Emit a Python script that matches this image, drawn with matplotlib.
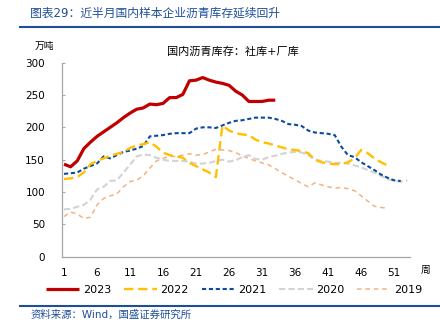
import matplotlib
matplotlib.use('Agg')
import matplotlib.pyplot as plt
from matplotlib.lines import Line2D

plt.rcParams['font.family'] = ['DejaVu Sans', 'Noto Sans CJK SC']

# weekly asphalt inventory (万吨)
v2023 = [143, 139, 148, 167, 177, 186, 193, 200, 207, 215, 222, 228, 230, 236, 235, 237,
         246, 246, 251, 272, 273, 277, 273, 270, 268, 265, 256, 250, 240, 240, 240, 242, 242]
v2022 = [120, 121, 123, 130, 143, 148, 152, 156, 159, 162, 168, 172, 174, 177, 170, 161,
         157, 155, 153, 145, 140, 135, 130, 123, 203, 195, 191, 189, 188, 181, 177, 175,
         172, 169, 166, 165, 163, 160, 150, 146, 144, 143, 143, 146, 152, 165, 160, 152,
         146, 141]
v2021 = [128, 129, 130, 136, 140, 144, 155, 152, 157, 162, 164, 167, 171, 186, 187, 188,
         190, 191, 191, 191, 198, 200, 200, 199, 203, 207, 210, 211, 213, 215, 215, 215,
         213, 210, 205, 204, 202, 195, 192, 191, 190, 188, 170, 157, 154, 146, 140, 134,
         127, 122, 118, 117]
v2020 = [73, 74, 77, 80, 88, 104, 108, 117, 118, 130, 142, 155, 158, 157, 153, 150,
         148, 148, 148, 147, 144, 144, 145, 148, 150, 147, 149, 154, 157, 151, 150, 154,
         156, 159, 161, 162, 161, 157, 150, 148, 147, 145, 145, 144, 141, 138, 134, 130,
         125, 120, 117, 116, 118]
v2019 = [62, 69, 66, 59, 61, 80, 90, 94, 97, 108, 116, 118, 125, 137, 148, 152,
         155, 155, 157, 159, 157, 158, 162, 166, 165, 164, 161, 156, 152, 148, 145, 142,
         136, 130, 124, 119, 113, 108, 114, 111, 108, 106, 107, 105, 102, 94, 86, 78,
         76, 75]
xticks = [1, 6, 11, 16, 21, 26, 31, 36, 41, 46, 51]

blue = '#1F4E99'

fig = plt.figure(figsize=(4.4, 3.3), dpi=100)
ax = fig.add_axes([0.1402, 0.2224, 0.7916, 0.5876])

series = [
    ('2019', v2019, '#F4B183', 1.1, (3, 2.5)),
    ('2020', v2020, '#D3D3D3', 1.5, (3, 1.5)),
    ('2021', v2021, '#0B4C9E', 1.5, (2, 1.3)),
    ('2022', v2022, '#FFC000', 1.7, (4, 2)),
    ('2023', v2023, '#C00000', 2.3, None),
]
handles = {}
for name, vals, col, lw, dash in series:
    x = range(1, len(vals) + 1)
    if dash is None:
        ln, = ax.plot(x, vals, color=col, lw=lw, solid_capstyle='butt')
    else:
        ln, = ax.plot(x, vals, color=col, lw=lw, dashes=dash)
    handles[name] = ln

ax.set_xlim(0.65, 53.4)
ax.set_ylim(0, 300)
ax.set_xticks(xticks)
ax.set_yticks(range(0, 301, 50))
ax.tick_params(axis='x', length=0, labelsize=7.5, pad=8, colors='black')
ax.tick_params(axis='y', length=2, direction='in', labelsize=7.5, pad=12, color='#A6A6A6')
for s in ['top', 'right']:
    ax.spines[s].set_visible(False)
for s in ['left', 'bottom']:
    ax.spines[s].set_color('#A6A6A6')
    ax.spines[s].set_linewidth(0.9)

# texts
fig.text(30 / 440, 1 - 13 / 330, '图表29：近半月国内样本企业沥青库存延续回升',
         color=blue, fontsize=8.5, va='center', ha='left')
fig.add_artist(Line2D([20 / 440, 1], [1 - 27 / 330] * 2, color=blue, lw=1.5))
fig.text(35 / 440, 1 - 46 / 330, '万吨', fontsize=7, va='center', ha='left')
fig.text(233 / 440, 1 - 52 / 330, '国内沥青库存：社库+厂库', fontsize=8, va='center', ha='center')
fig.text(426 / 440, 1 - 270 / 330, '周', fontsize=7, va='center', ha='center')

order = ['2023', '2022', '2021', '2020', '2019']
fig.legend([handles[k] for k in order], order, loc='center',
           bbox_to_anchor=(234 / 440, 1 - 290 / 330), ncol=5, frameon=False,
           fontsize=8, handlelength=3.0, handletextpad=0.3, columnspacing=1.15)

fig.add_artist(Line2D([20 / 440, 1], [1 - 305.5 / 330] * 2, color=blue, lw=1.5))
fig.text(31 / 440, 1 - 315 / 330, '资料来源：Wind，国盛证券研究所',
         color=blue, fontsize=7.5, va='center', ha='left')

fig.savefig('out.png', dpi=100)
